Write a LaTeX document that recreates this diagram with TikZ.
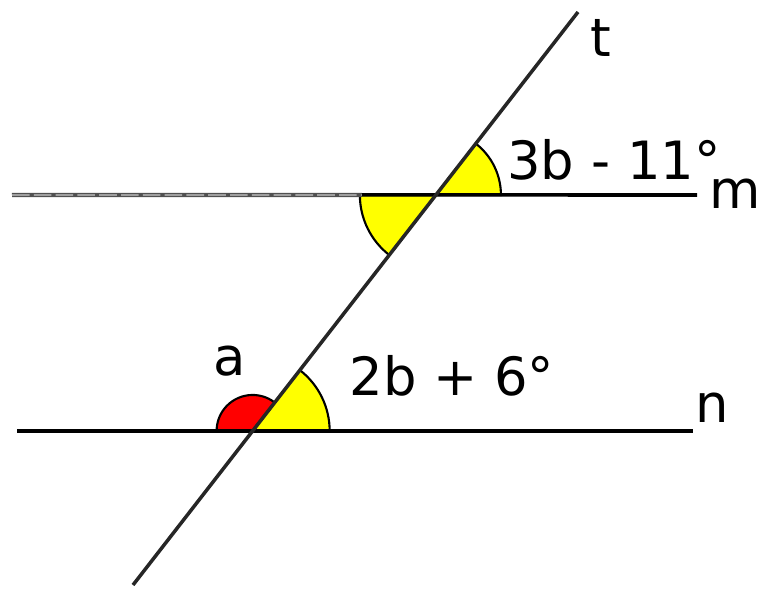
\documentclass[tikz,border=0pt]{standalone}
\usepackage{fontspec}
\setmainfont{DejaVu Sans}
\usetikzlibrary{calc}
\definecolor{angyel}{RGB}{255,255,0}
\definecolor{angred}{RGB}{255,0,0}
\definecolor{lgray} {RGB}{80,80,80}
\tikzset{
  % straight lines of the figure
  Ln/.style={line width=1pt,color=black},
  % the grey left part of line m
  GLn/.style={line width=1.2pt,color=lgray},
  % filled angle sectors
  Ang/.style={draw=black,fill=#1,line width=0.6pt},
  Ang/.default=angyel,
  % labels
  Lb/.style={font=\fontsize{15}{17}\selectfont,inner sep=0pt},
}
\begin{document}
\begin{tikzpicture}[x=0.01cm,y=0.01cm]
      \useasboundingbox (0,0) rectangle (760,590);
      % end points of the lines
      \coordinate (t1) at (133,5);
      \coordinate (t2) at (578,578);
      \coordinate (m1) at (12,395);
      \coordinate (m2) at (697,395);
      \coordinate (n1) at (17,159);
      \coordinate (n2) at (693,159);
      \coordinate (P) at (intersection of t1--t2 and m1--m2);
      \coordinate (Q) at (intersection of t1--t2 and n1--n2);
      % angle sectors
      \filldraw[Ang] (P) -- ++(0:0.65cm) arc (0:52.16:0.65cm) -- cycle;
      \filldraw[Ang] (P) -- ++(180:0.76cm) arc (180:232.16:0.76cm) -- cycle;
      \filldraw[Ang] (Q) -- ++(0:0.77cm) arc (0:52.16:0.77cm) -- cycle;
      \filldraw[Ang=angred] (Q) -- ++(52.16:0.36cm) arc (52.16:180:0.36cm) -- cycle;
      % lines
      \draw[GLn] (m1) -- ($(P)+(-0.74cm,0)$);
      \draw[GLn,white!70!lgray,line width=0.35pt,dash pattern=on 5pt off 1.2pt]
            (m1) -- ($(P)+(-0.74cm,0)$);
      \draw[Ln] ($(P)+(-0.74cm,0)$) -- (m2);
      \draw[Ln] (n1) -- (n2);
      \draw[Ln,color=black!85] (t1) -- (t2);
      % labels
      \node[Lb] (tl) at (601,552) {t};
      \node[Lb] (ml) at (735,396) {m};
      \node[Lb] (nl) at (712,182) {n};
      \node[Lb] (al) at (230,229) {a};
      \node[Lb] (ang1) at (614,430) {3b - 11°};
      \node[Lb] (ang2) at (452,214) {2b + 6°};
    \end{tikzpicture}
\end{document}
